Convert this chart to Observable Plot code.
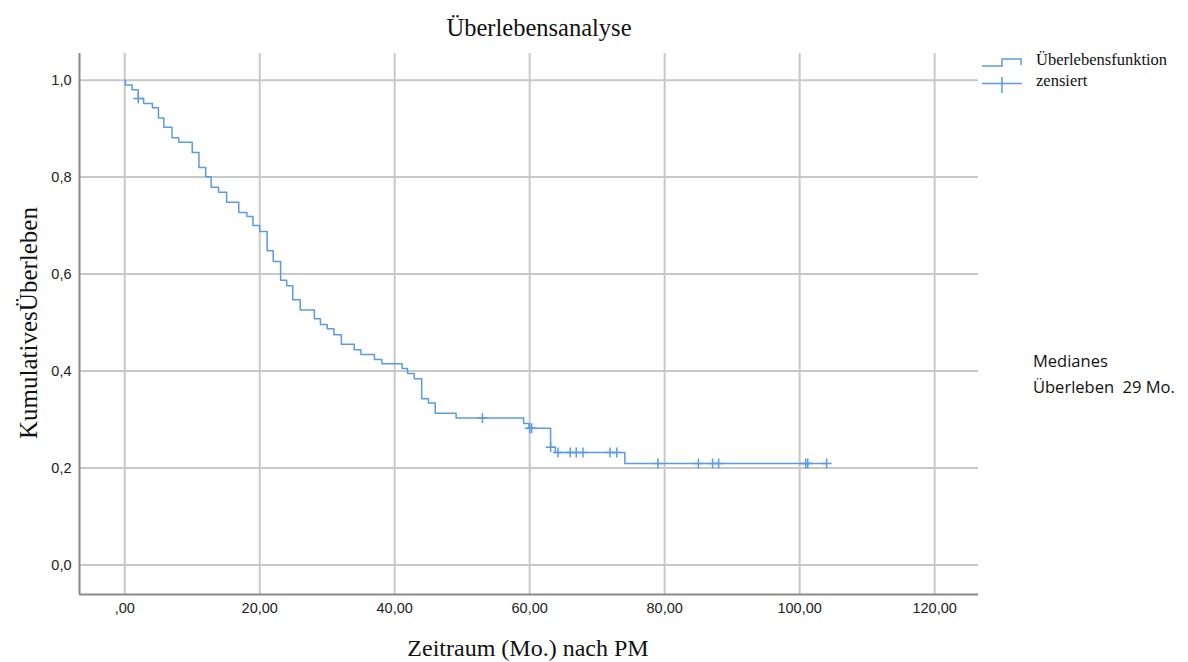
<!DOCTYPE html>
<html>
<head>
<meta charset="utf-8">
<script src="https://cdn.jsdelivr.net/npm/d3@7"></script>
<script src="https://cdn.jsdelivr.net/npm/@observablehq/plot@0.6"></script>
<style>
  html, body { margin: 0; padding: 0; background: #fff; }
  #wrap { position: relative; width: 1188px; height: 662px; overflow: hidden; }
  .serif { font-family: "Liberation Serif", "Times New Roman", serif; color: #111; position: absolute; white-space: nowrap; line-height: 1; }
  .center { transform: translate(-50%, -50%); }
  #ylab { transform: translate(-50%, -50%) rotate(-90deg); }
  #median { position: absolute; font-family: "Open Sans", "Liberation Sans", sans-serif; font-size: 16.5px; line-height: 26px; color: #111; white-space: pre; }
  #legend { position: absolute; left: 978px; top: 50px; }
</style>
</head>
<body>
<div id="wrap">
  <div class="serif center" id="title" style="left:539px; top:28px; font-size:24.5px;">Überlebensanalyse</div>
  <div class="serif" id="ylab" style="left:28px; top:323px; font-size:25px;">KumulativesÜberleben</div>
  <div class="serif center" id="xlab" style="left:528px; top:648px; font-size:24px;">Zeitraum (Mo.) nach PM</div>
  <div id="median" style="left:1033px; top:348px;">Medianes
Überleben  29 Mo.</div>
  <div id="legend">
    <svg width="210" height="50" style="position:absolute; left:0; top:0;">
      <path d="M4,16 H24 V9 H43 V15" fill="none" stroke="#5b9ae6" stroke-width="1.5"/>
      <path d="M4,33.5 H44 M24,27 V43" fill="none" stroke="#5b9ae6" stroke-width="1.5"/>
    </svg>
    <div class="serif" style="left:58px; top:2px; font-size:16.5px;">Überlebensfunktion</div>
    <div class="serif" style="left:58px; top:23px; font-size:16.5px;">zensiert</div>
  </div>
</div>
<script>
// Kaplan-Meier step data
const eventTimes = [0.1, 1.1, 2.0, 2.8, 4.1, 5.0, 5.8, 7.0, 8.0, 10.0, 11.0, 12.0, 12.8, 13.9, 15.1, 16.9, 18.1, 19.0, 20.0, 21.1, 22.0, 23.1, 24.0, 24.9, 26.0, 28.1, 29.0, 30.0, 31.0, 32.1, 34.0, 35.0, 37.0, 38.1, 41.1, 41.9, 42.9, 44.0, 45.0, 46.0, 49.1, 59.1, 59.9, 63.1, 63.8, 74.1];
const survival   = [0.990, 0.980, 0.962, 0.952, 0.943, 0.922, 0.903, 0.881, 0.872, 0.851, 0.820, 0.801, 0.779, 0.769, 0.748, 0.727, 0.719, 0.700, 0.688, 0.648, 0.626, 0.587, 0.576, 0.547, 0.526, 0.508, 0.496, 0.487, 0.475, 0.455, 0.444, 0.434, 0.424, 0.415, 0.405, 0.395, 0.384, 0.343, 0.334, 0.313, 0.303, 0.292, 0.282, 0.243, 0.232, 0.209];
const startTime = 0, startSurvival = 1.0;
const endTime = 104.0;

const censorTimes    = [2.0, 53.0, 60.0, 60.3, 63.1, 64.2, 66.0, 66.9, 67.9, 71.9, 72.9, 79.0, 85.0, 87.1, 88.0, 100.9, 101.2, 104.0];
const censorSurvival = [0.962, 0.303, 0.282, 0.282, 0.243, 0.232, 0.232, 0.232, 0.232, 0.232, 0.232, 0.209, 0.209, 0.209, 0.209, 0.209, 0.209, 0.209];

const xTicks = [0, 20, 40, 60, 80, 100, 120];
const yTicks = [0, 0.2, 0.4, 0.6, 0.8, 1.0];

const xDomain = [-6.7, 126.5];
const yDomain = [-0.061, 1.055];

const curve = [{t: startTime, s: startSurvival}]
  .concat(eventTimes.map((t, i) => ({t, s: survival[i]})))
  .concat([{t: endTime, s: survival[survival.length - 1]}]);
const censored = censorTimes.map((t, i) => ({t, s: censorSurvival[i]}));

const plusSymbol = {
  draw(context, size) {
    const r = Math.sqrt(size / Math.PI);
    context.moveTo(-r, 0); context.lineTo(r, 0);
    context.moveTo(0, -r); context.lineTo(0, r);
  }
};

const blue = "#5b9ae6";
const grid = "#c8c8c8";
const axisCol = "#8a8a8a";

const chart = Plot.plot({
  width: 1188,
  height: 662,
  marginLeft: 79,
  marginRight: 210,
  marginTop: 53,
  marginBottom: 68,
  x: {domain: xDomain},
  y: {domain: yDomain},
  style: {fontFamily: "'Liberation Sans', Arial, sans-serif", fontSize: "14.5px", color: "#222", background: "transparent", overflow: "visible"},
  marks: [
    Plot.gridY({ticks: yTicks, stroke: grid, strokeOpacity: 1, strokeWidth: 2}),
    Plot.gridX({ticks: xTicks, stroke: grid, strokeOpacity: 1, strokeWidth: 2}),
    Plot.ruleX([xDomain[0]], {stroke: axisCol, strokeWidth: 2}),
    Plot.ruleY([yDomain[0]], {stroke: axisCol, strokeWidth: 2}),
    Plot.axisX({ticks: xTicks, tickSize: 0, tickPadding: 8, label: null,
      tickFormat: d => d === 0 ? ",00" : d.toFixed(2).replace(".", ",")}),
    Plot.axisY({ticks: yTicks, tickSize: 0, tickPadding: 8, label: null,
      tickFormat: d => d.toFixed(1).replace(".", ",")}),
    Plot.line(curve, {x: "t", y: "s", curve: "step-after", stroke: blue, strokeWidth: 1.5}),
    Plot.dot(censored, {x: "t", y: "s", symbol: plusSymbol, r: 5, fill: "none", stroke: blue, strokeWidth: 1.5})
  ]
});
chart.style.position = "absolute";
chart.style.left = "0px";
chart.style.top = "0px";
document.getElementById("wrap").prepend(chart);
</script>
</body>
</html>
